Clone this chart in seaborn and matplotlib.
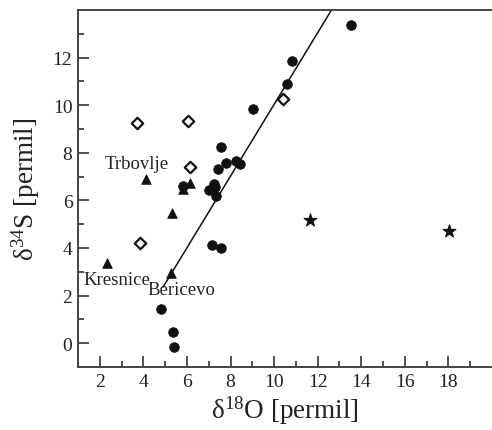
import seaborn as sns
import matplotlib.pyplot as plt
import pandas as pd

# data
circle_x = [13.55, 10.83, 10.6, 9.05, 7.56, 7.78, 8.24, 8.44, 7.42, 5.8,
            7.0, 7.25, 7.3, 7.35, 7.17, 7.58, 4.82, 5.35, 5.42]
circle_y = [13.36, 11.85, 10.9, 9.83, 8.25, 7.59, 7.66, 7.51, 7.3, 6.61,
            6.45, 6.7, 6.55, 6.2, 4.12, 4.02, 1.42, 0.48, -0.15]
diamond_x = [10.42, 3.72, 6.06, 6.16, 3.86]
diamond_y = [10.25, 9.27, 9.33, 7.41, 4.23]
triangle_x = [6.16, 5.84, 4.1, 5.3, 2.35, 5.27]
triangle_y = [6.74, 6.48, 6.89, 5.49, 3.37, 2.95]
star_x = [11.67, 18.01]
star_y = [5.17, 4.71]
line_x = [4.9, 12.7]
line_y = [2.35, 14.1]
site_names = ["Trbovlje", "Kresnice", "Bericevo"]
site_x = [3.69, 2.8, 5.74]
site_y = [7.56, 2.69, 2.27]

sns.set_style("ticks")
plt.rcParams["font.family"] = ["Liberation Serif", "DejaVu Serif"]
plt.rcParams["mathtext.fontset"] = "custom"
plt.rcParams["mathtext.rm"] = "Liberation Serif"
plt.rcParams["mathtext.it"] = "Liberation Serif:italic"

fig = plt.figure(figsize=(4.92, 4.31), dpi=100)
ax = fig.add_axes([0.1585, 0.1462, 0.8415, 0.8283])

circles = pd.DataFrame({"x": circle_x, "y": circle_y})
diamonds = pd.DataFrame({"x": diamond_x, "y": diamond_y})
triangles = pd.DataFrame({"x": triangle_x, "y": triangle_y})
stars = pd.DataFrame({"x": star_x, "y": star_y})

sns.lineplot(x=line_x, y=line_y, color="#111111", linewidth=1.1, ax=ax)
sns.scatterplot(data=circles, x="x", y="y", marker="o", s=48,
                color="#111111", edgecolor="#111111", ax=ax, zorder=3)
sns.scatterplot(data=diamonds, x="x", y="y", marker="D", s=34,
                facecolor="white", edgecolor="#111111", linewidth=1.6,
                ax=ax, zorder=3)
sns.scatterplot(data=triangles, x="x", y="y", marker="^", s=48,
                color="#111111", edgecolor="#111111", ax=ax, zorder=3)
sns.scatterplot(data=stars, x="x", y="y", marker="*", s=95,
                color="#111111", edgecolor="#111111", ax=ax, zorder=3)

for name, tx, ty in zip(site_names, site_x, site_y):
    ax.text(tx, ty, name, fontsize=13.5, ha="center", va="center",
            color="#222222", zorder=4)

ax.set_xlim(1, 20)
ax.set_ylim(-1, 14)
ax.set_xticks([2, 4, 6, 8, 10, 12, 14, 16, 18])
ax.set_xticks([3, 5, 7, 9, 11, 13, 15, 17, 19], minor=True)
ax.set_yticks([0, 2, 4, 6, 8, 10, 12])
ax.set_yticks([-1, 1, 3, 5, 7, 9, 11, 13], minor=True)
ax.tick_params(which="major", direction="in", length=8, width=1.1,
               labelsize=14, pad=4, color="#222222", labelcolor="#222222")
ax.tick_params(which="minor", direction="in", length=4.5, width=1.1,
               color="#222222")

for side in ["left", "bottom", "top"]:
    ax.spines[side].set_linewidth(1.4)
    ax.spines[side].set_color("#444444")
ax.spines["right"].set_visible(False)

ax.set_xlabel("δ$^{18}$O [permil]", fontsize=19.5, color="#222222")
ax.set_ylabel("δ$^{34}$S [permil]", fontsize=19.5, color="#222222")
ax.xaxis.set_label_coords(0.5, -0.073)
ax.yaxis.set_label_coords(-0.088, 0.5)

fig.savefig("out.png", dpi=100)
